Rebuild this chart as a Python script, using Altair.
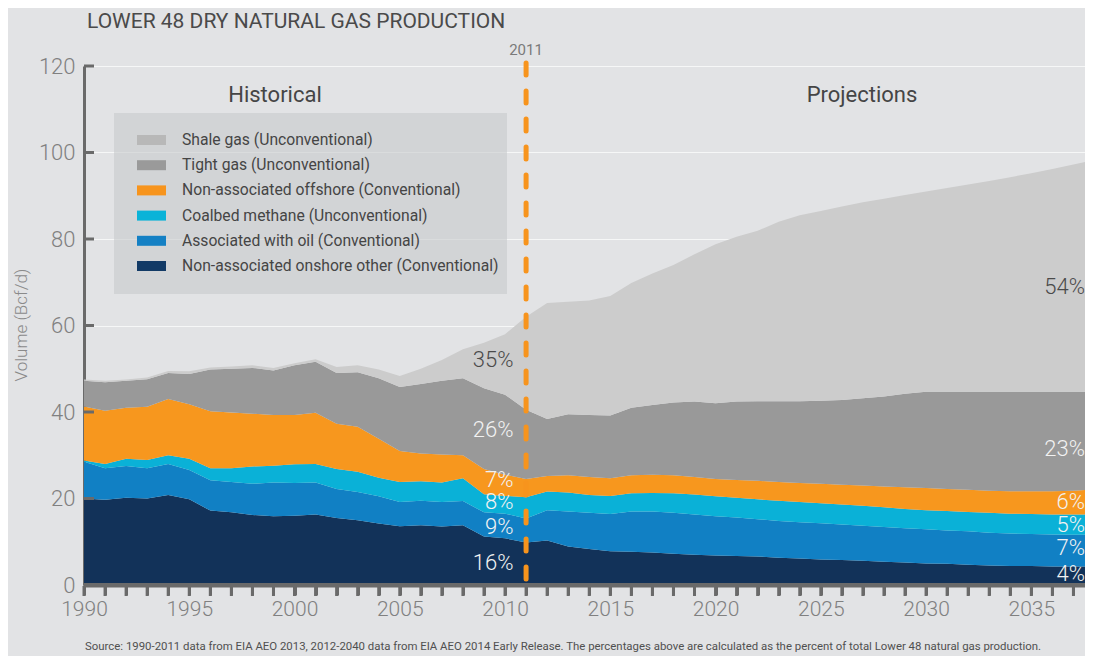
import altair as alt
import pandas as pd

FONT = "Roboto"

years = list(range(1990, 2039))
series = [
    "Non-associated onshore other (Conventional)",
    "Associated with oil (Conventional)",
    "Coalbed methane (Unconventional)",
    "Non-associated offshore (Conventional)",
    "Tight gas (Unconventional)",
    "Shale gas (Unconventional)",
]
colors = ["#123259", "#1180c4", "#0ab1d7", "#f7971e", "#999999", "#cccccc"]
swatch_colors = ["#123a66", "#1480c4", "#0ab3d8", "#f7941d", "#9a9a9a", "#b8b8b8"]

onshore = [20.0, 19.7, 20.2, 20.0, 20.8, 19.8, 17.2, 16.8, 16.2, 15.9, 16.0, 16.3, 15.5, 15.0, 14.2, 13.6,
           13.8, 13.5, 13.8, 11.2, 10.8, 9.8, 10.3, 8.9, 8.3, 7.8, 7.7, 7.5, 7.2, 7.0, 6.8, 6.7, 6.6, 6.3,
           6.1, 5.9, 5.8, 5.6, 5.4, 5.2, 5.0, 4.9, 4.7, 4.5, 4.4, 4.4, 4.3, 4.3, 4.3]
associated = [8.5, 7.3, 7.3, 7.0, 7.2, 6.8, 7.0, 7.0, 7.2, 7.8, 7.6, 7.4, 6.7, 6.5, 6.3, 5.6, 5.7, 5.7,
              5.6, 5.6, 5.7, 5.6, 7.0, 8.1, 8.4, 8.6, 9.3, 9.5, 9.5, 9.3, 9.1, 8.9, 8.6, 8.5, 8.4, 8.4,
              8.2, 8.1, 8.0, 7.9, 7.9, 7.7, 7.7, 7.6, 7.5, 7.4, 7.4, 7.3, 7.3]
coalbed = [0.3, 1.0, 1.7, 1.9, 2.0, 2.6, 2.8, 3.2, 4.0, 3.9, 4.3, 4.3, 4.6, 4.7, 4.3, 4.6, 4.5, 4.5, 5.3,
           4.2, 4.1, 4.9, 4.3, 4.4, 4.1, 4.2, 4.2, 4.3, 4.5, 4.6, 4.6, 4.6, 4.6, 4.7, 4.7, 4.6, 4.6, 4.6,
           4.6, 4.5, 4.4, 4.5, 4.5, 4.6, 4.6, 4.6, 4.6, 4.7, 4.7]
offshore = [12.5, 12.3, 11.8, 12.3, 13.0, 12.6, 13.2, 12.9, 12.2, 11.7, 11.4, 11.8, 10.5, 10.4, 9.0, 7.2,
            6.4, 6.5, 5.3, 5.8, 4.9, 4.2, 3.6, 4.0, 4.2, 4.1, 4.2, 4.2, 4.2, 4.1, 4.0, 4.1, 4.3, 4.3,
            4.4, 4.5, 4.6, 4.7, 4.8, 5.0, 5.1, 5.1, 5.1, 5.1, 5.2, 5.3, 5.4, 5.5, 5.8]
tight = [5.9, 6.6, 6.2, 6.4, 6.0, 7.0, 9.6, 10.1, 10.6, 10.3, 11.5, 11.8, 11.7, 12.6, 14.0, 14.8, 16.1,
         17.0, 17.8, 18.7, 18.5, 16.0, 13.2, 14.1, 14.3, 14.5, 15.6, 16.1, 16.8, 17.4, 17.5, 18.1, 18.4,
         18.7, 18.9, 19.2, 19.6, 20.2, 20.8, 21.6, 22.3, 22.5, 22.7, 22.9, 23.0, 23.0, 23.0, 22.9, 22.6]
shale = [0.3, 0.3, 0.3, 0.4, 0.5, 0.6, 0.5, 0.5, 0.6, 0.6, 0.5, 0.6, 1.4, 1.6, 2.0, 2.5, 3.5, 4.8, 6.7,
         10.5, 14.0, 21.5, 26.8, 26.0, 26.5, 27.6, 28.8, 30.4, 31.8, 34.1, 36.8, 38.1, 39.4, 41.5, 43.0,
         43.9, 44.7, 45.3, 45.7, 46.0, 46.3, 47.1, 47.9, 48.7, 49.6, 50.5, 51.5, 52.5, 53.6]

y_ticks = [0, 20, 40, 60, 80, 100, 120]
x_tick_years = list(range(1990, 2038))

left_pct_text = ["35%", "26%", "7%", "8%", "9%", "16%"]
left_pct_y = [52.0, 35.8, 24.3, 19.2, 13.4, 5.1]
left_pct_color = ["#4a4a4a", "#f2f2f2", "#f2f2f2", "#f2f2f2", "#f2f2f2", "#f2f2f2"]
right_pct_text = ["54%", "23%", "6%", "5%", "7%", "4%"]
right_pct_y = [68.9, 31.4, 19.2, 13.9, 8.6, 2.5]
right_pct_color = ["#4a4a4a", "#f2f2f2", "#f2f2f2", "#f2f2f2", "#f2f2f2", "#f2f2f2"]

rows = []
for i, (name, vals) in enumerate(zip(series, [onshore, associated, coalbed, offshore, tight, shale])):
    for yr, v in zip(years, vals):
        rows.append({"year": yr, "series": name, "value": v, "ord": i})
df = pd.DataFrame(rows)

xscale = alt.Scale(domain=[1990, 2037.55], nice=False, zero=False)
yscale = alt.Scale(domain=[0, 120], nice=False, zero=True)

AX = alt.Axis(values=x_tick_years, format="d", title=None, grid=False,
              labelExpr="datum.value % 5 == 0 ? datum.label : ''",
              domainColor="#6a6a6a", domainWidth=4, ticks=True, tickColor="#6a6a6a", tickWidth=3,
              tickSize=10, labelFont=FONT, labelFontSize=21, labelFontWeight=300,
              labelColor="#808080", labelPadding=3, labelFlush=False, labelOverlap=False)
AY = alt.Axis(values=y_ticks, title=None, grid=True, gridColor="#ffffff", gridOpacity=0.7,
              gridWidth=1, domainColor="#6a6a6a", domainWidth=3, ticks=False,
              labelFont=FONT, labelFontSize=22, labelFontWeight=300,
              labelColor="#808080", labelPadding=9)


def X(field="year"):
    return alt.X(f"{field}:Q", scale=xscale, axis=AX, title=None)


def Y(field="value", stack=None):
    if stack:
        return alt.Y(f"{field}:Q", scale=yscale, axis=AY, title=None, stack=stack)
    return alt.Y(f"{field}:Q", scale=yscale, axis=AY, title=None)


area = alt.Chart(df).mark_area(clip=True, interpolate="linear").encode(
    x=X(), y=Y(stack="zero"),
    color=alt.Color("series:N", scale=alt.Scale(domain=series, range=colors), legend=None),
    order=alt.Order("ord:Q", sort="ascending"),
)

yt = alt.Chart(pd.DataFrame({"value": y_ticks})).mark_rule(color="#6a6a6a", strokeWidth=3).encode(
    y=Y(), x=alt.value(0), x2=alt.value(10))

xt = alt.Chart(pd.DataFrame({"year": x_tick_years})).mark_tick(
    color="#6a6a6a", thickness=3, size=10, orient="vertical", opacity=1).encode(
    x=X(), y=alt.value(525))

base_line = alt.Chart(pd.DataFrame({"a": [0]})).mark_rule(color="#6a6a6a", strokeWidth=4).encode(
    x=alt.value(0), x2=alt.value(1001), y=alt.value(519))

dash = alt.Chart(pd.DataFrame({"year": [2011]})).mark_rule(
    color="#f7941d", strokeWidth=5, strokeDash=[12, 16], strokeCap="round").encode(
    x=X(), y=alt.value(-3), y2=alt.value(524))


def txt(s, x, y, size, color, align="left", angle=0, weight=400):
    kw = dict(font=FONT, fontSize=size, color=color, align=align, baseline="middle", fontWeight=weight)
    if angle:
        kw["angle"] = angle
    return alt.Chart(pd.DataFrame({"t": [s]})).mark_text(**kw).encode(
        text="t:N", x=alt.value(x), y=alt.value(y))


layers = [area, yt, xt, base_line, dash]

pl = pd.DataFrame({"t": left_pct_text, "value": left_pct_y, "c": left_pct_color, "year": [2010.4] * 6})
layers.append(alt.Chart(pl).mark_text(font=FONT, fontSize=22, fontWeight=300, align="right",
                                      baseline="middle").encode(
    x=X(), y=Y(), text="t:N", color=alt.Color("c:N", scale=None)))
pr = pd.DataFrame({"t": right_pct_text, "value": right_pct_y, "c": right_pct_color, "year": [2037.55] * 6})
layers.append(alt.Chart(pr).mark_text(font=FONT, fontSize=22, fontWeight=300, align="right",
                                      baseline="middle").encode(
    x=X(), y=Y(), text="t:N", color=alt.Color("c:N", scale=None)))

# legend box
layers.append(alt.Chart(pd.DataFrame({"a": [0]})).mark_rect(color="#c8c9cb", opacity=0.6).encode(
    x=alt.value(30), x2=alt.value(423), y=alt.value(47), y2=alt.value(228)))
legend_order = [5, 4, 3, 2, 1, 0]
for k, idx in enumerate(legend_order):
    cy = 74 + 25.2 * k
    layers.append(alt.Chart(pd.DataFrame({"a": [0]})).mark_rect(color=swatch_colors[idx]).encode(
        x=alt.value(53), x2=alt.value(82), y=alt.value(cy - 5), y2=alt.value(cy + 5)))
    layers.append(txt(series[idx], 98, cy, 15.7, "#454545"))

layers += [
    txt("LOWER 48 DRY NATURAL GAS PRODUCTION", 3, -44, 21, "#4a4a4a"),
    txt("Historical", 191, 29, 22, "#454545", align="center"),
    txt("Projections", 778, 29, 22, "#454545", align="center"),
    txt("2011", 442, -16, 15, "#7a7a7a", align="center"),
    txt("Volume (Bcf/d)", -62, 259, 17, "#8a8a8a", align="center", angle=270, weight=300),
    txt("Source:  1990-2011 data from EIA AEO 2013, 2012-2040 data from EIA AEO 2014 Early Release. "
        "The percentages above are calculated as the percent of total Lower 48 natural gas production.",
        1, 581, 11.4, "#505050"),
    txt("Percentages may not equal 100% due to rounding.", 1, 595, 11.4, "#505050"),
]

chart = alt.layer(*layers).properties(
    width=1001, height=519,
    autosize=alt.AutoSizeParams(type="none"),
    padding={"left": 76, "top": 58, "right": 0, "bottom": 71},
    background="#e2e3e5",
).configure_view(stroke=None, fill="#e2e3e5")

chart.save("out.html", embed_options={"renderer": "svg", "actions": False})
